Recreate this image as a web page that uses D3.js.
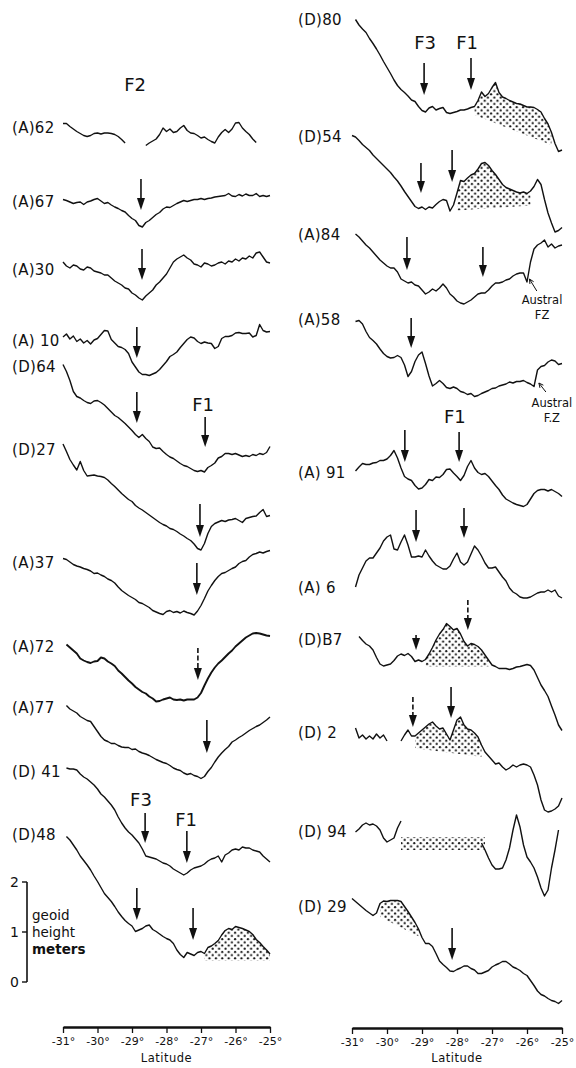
<!DOCTYPE html>
<html><head><meta charset="utf-8">
<script src="https://cdn.jsdelivr.net/npm/d3@7"></script>
<style>
body{margin:0;background:#fff}
svg{display:block}
text{font-family:"DejaVu Sans",sans-serif;fill:#111}
</style></head><body>
<svg id="c" width="576" height="1068"></svg>
<script>
// latitude sample points (degrees)
const LAT = [-31.0,-30.9,-30.8,-30.7,-30.6,-30.5,-30.4,-30.3,-30.2,-30.1,
 -30.0,-29.9,-29.8,-29.7,-29.6,-29.5,-29.4,-29.3,-29.2,-29.1,
 -29.0,-28.9,-28.8,-28.7,-28.6,-28.5,-28.4,-28.3,-28.2,-28.1,
 -28.0,-27.9,-27.8,-27.7,-27.6,-27.5,-27.4,-27.3,-27.2,-27.1,
 -27.0,-26.9,-26.8,-26.7,-26.6,-26.5,-26.4,-26.3,-26.2,-26.1,
 -26.0,-25.9,-25.8,-25.7,-25.6,-25.5,-25.4,-25.3,-25.2,-25.1,-25.0];
const TICKS = [-31,-30,-29,-28,-27,-26,-25];

// geoid heights (m) relative to each profile's stacking level
const A62 = [0.09,0.09,0.03,-0.02,-0.07,-0.11,-0.15,-0.17,-0.15,-0.11,
 -0.10,-0.12,-0.10,-0.10,-0.11,-0.13,-0.17,-0.23,-0.30,null,
 null,null,null,null,-0.35,-0.30,-0.26,-0.22,-0.13,0.00,
 -0.07,-0.02,-0.09,-0.07,0.00,0.05,-0.05,-0.10,-0.11,-0.15,
 -0.20,-0.18,-0.23,-0.27,-0.30,-0.18,-0.09,-0.03,-0.09,-0.02,
 0.10,0.11,0.00,-0.07,-0.13,-0.22,-0.29,null,null,null,null];
const A67 = [0.05,0.03,0,-0.03,-0.01,0,-0.05,0,0.02,0.05,
 0.07,0.02,-0.03,-0.01,-0.06,-0.10,-0.13,-0.17,-0.20,-0.27,
 -0.33,-0.37,-0.47,-0.50,-0.41,-0.37,-0.31,-0.25,-0.21,-0.14,
 -0.10,-0.11,-0.07,-0.03,0,0.03,0.01,0.03,0.05,0.05,
 0.07,0.05,0.07,0.08,0.10,0.11,0.12,0.13,0.17,0.12,
 0.11,0.15,0.12,0.16,0.13,0.13,0.17,0.11,0.13,0.11,0.13];
const A30 = [0.16,0.08,0.04,0.10,0.08,0.02,0.00,0.06,0.04,-0.02,
 -0.04,-0.06,-0.10,-0.10,-0.16,-0.22,-0.26,-0.30,-0.36,-0.38,
 -0.46,-0.50,-0.56,-0.60,-0.52,-0.46,-0.40,-0.30,-0.24,-0.16,
 -0.08,0.04,0.16,0.22,0.26,0.30,0.24,0.20,0.12,0.10,
 0.06,0.14,0.12,0.08,0.10,0.14,0.16,0.12,0.18,0.16,
 0.22,0.18,0.24,0.22,0.28,0.24,0.34,0.36,0.26,0.16,0.14];
const A10 = [0.08,0.14,0.04,0.10,-0.01,0.04,-0.04,0.01,-0.06,0.02,
 0.05,0.13,0.21,0.20,0.03,-0.04,-0.11,-0.13,-0.17,-0.25,
 -0.42,-0.52,-0.62,-0.67,-0.67,-0.69,-0.66,-0.63,-0.57,-0.49,
 -0.41,-0.31,-0.27,-0.22,-0.13,-0.05,0.03,0.08,0.06,-0.01,
 -0.05,-0.02,-0.04,-0.05,-0.15,-0.11,0.05,0.09,0.09,0.11,
 0.16,0.17,0.15,0.15,0.16,0.08,0.11,0.33,0.21,0.18,0.19];
const D64 = [0.05,-0.09,-0.27,-0.49,-0.59,-0.62,-0.67,-0.71,-0.73,-0.68,
 -0.67,-0.71,-0.76,-0.83,-0.90,-0.97,-1.01,-1.07,-1.13,-1.20,
 -1.27,-1.35,-1.41,-1.35,-1.43,-1.49,-1.60,-1.63,-1.62,-1.69,
 -1.75,-1.80,-1.83,-1.88,-1.93,-1.97,-1.99,-2.03,-2.07,-2.09,
 -2.07,-2.10,-2.01,-1.97,-1.92,-1.82,-1.79,-1.73,-1.73,-1.75,
 -1.73,-1.76,-1.79,-1.77,-1.79,-1.75,-1.77,-1.73,-1.75,-1.71,-1.59];
const D27 = [0.12,-0.03,-0.19,-0.30,-0.40,-0.23,-0.41,-0.52,-0.51,-0.50,
 -0.52,-0.53,-0.55,-0.60,-0.67,-0.73,-0.80,-0.87,-0.93,-0.99,
 -1.03,-1.11,-1.16,-1.20,-1.25,-1.30,-1.35,-1.40,-1.45,-1.49,
 -1.52,-1.57,-1.59,-1.63,-1.68,-1.72,-1.77,-1.81,-1.88,-1.97,
 -2.00,-1.87,-1.67,-1.53,-1.47,-1.44,-1.41,-1.43,-1.40,-1.39,
 -1.37,-1.41,-1.45,-1.37,-1.35,-1.33,-1.32,-1.25,-1.19,-1.33,-1.31];
const A37 = [0.09,0.07,0.02,-0.03,-0.06,-0.08,-0.11,-0.13,-0.16,-0.21,
 -0.20,-0.24,-0.27,-0.32,-0.35,-0.40,-0.48,-0.55,-0.60,-0.65,
 -0.69,-0.73,-0.79,-0.81,-0.85,-0.89,-0.95,-0.98,-1.01,-1.03,
 -0.97,-0.95,-0.99,-0.97,-1.00,-0.96,-0.99,-1.01,-1.04,-0.96,
 -0.85,-0.71,-0.56,-0.45,-0.35,-0.27,-0.21,-0.19,-0.15,-0.11,
 -0.08,-0.01,0.03,0.05,0.12,0.17,0.19,0.22,0.20,0.23,0.25];
const A72 = [null,0.05,-0.01,-0.07,-0.13,-0.23,-0.27,-0.30,-0.32,-0.29,
 -0.28,-0.21,-0.23,-0.29,-0.33,-0.38,-0.47,-0.53,-0.60,-0.67,
 -0.73,-0.80,-0.85,-0.90,-0.93,-0.99,-1.03,-1.09,-1.08,-1.05,
 -1.03,-1.01,-1.05,-1.06,-1.05,-1.07,-1.05,-1.05,-1.05,-1.01,
 -0.92,-0.77,-0.63,-0.51,-0.41,-0.33,-0.27,-0.20,-0.13,-0.07,
 0.01,0.07,0.13,0.19,0.23,0.27,0.28,0.27,0.25,0.23,0.22];
const A77 = [null,0.05,-0.02,-0.06,-0.10,-0.17,-0.21,-0.25,-0.27,-0.37,
 -0.47,-0.57,-0.64,-0.67,-0.71,-0.71,-0.75,-0.78,-0.79,-0.79,
 -0.83,-0.82,-0.87,-0.90,-0.92,-0.95,-0.99,-1.03,-1.06,-1.09,
 -1.11,-1.15,-1.20,-1.23,-1.25,-1.30,-1.33,-1.31,-1.35,-1.37,
 -1.41,-1.37,-1.27,-1.19,-1.08,-0.98,-0.90,-0.83,-0.77,-0.68,
 -0.64,-0.59,-0.55,-0.50,-0.45,-0.41,-0.37,-0.34,-0.29,-0.24,-0.18];
const D41 = [null,0.08,0.06,0.06,0.04,-0.04,-0.10,-0.14,-0.20,-0.26,
 -0.34,-0.44,-0.50,-0.58,-0.66,-0.76,-0.90,-1.02,-1.12,-1.20,
 -1.26,-1.34,-1.42,-1.54,-1.68,-1.70,-1.72,-1.74,-1.78,-1.82,
 -1.84,-1.88,-1.94,-1.98,-2.02,-2.06,-2.02,-1.96,-1.92,-1.90,
 -1.88,-1.84,-1.78,-1.74,-1.72,-1.68,-1.80,-1.66,-1.62,-1.56,
 -1.54,-1.56,-1.50,-1.52,-1.52,-1.56,-1.58,-1.60,-1.68,-1.74,-1.80];
const D48 = [null,-0.03,-0.10,-0.20,-0.30,-0.42,-0.51,-0.60,-0.70,-0.82,
 -0.93,-1.05,-1.17,-1.25,-1.33,-1.43,-1.54,-1.63,-1.71,-1.77,
 -1.82,-1.93,-1.90,-1.87,-1.82,-1.80,-1.89,-1.93,-1.98,-2.03,
 -2.07,-2.10,-2.17,-2.30,-2.39,-2.45,-2.35,-2.38,-2.41,-2.35,
 -2.33,-2.37,-2.25,-2.22,-2.17,-2.11,-2.00,-1.91,-1.87,-1.89,
 -1.83,-1.85,-1.87,-1.90,-1.93,-1.99,-2.09,-2.15,-2.23,-2.30,-2.38];
const D80 = [null,0.01,-0.10,-0.18,-0.25,-0.37,-0.47,-0.58,-0.70,-0.83,
 -0.95,-1.07,-1.20,-1.31,-1.39,-1.45,-1.52,-1.60,-1.63,-1.73,
 -1.81,-1.84,-1.76,-1.73,-1.80,-1.77,-1.75,-1.85,-1.87,-1.85,
 -1.83,-1.80,-1.80,-1.78,-1.75,-1.73,-1.61,-1.44,-1.53,-1.47,
 -1.35,-1.25,-1.45,-1.54,-1.57,-1.61,-1.64,-1.67,-1.68,-1.71,
 -1.74,-1.74,-1.75,-1.79,-1.84,-1.97,-2.08,-2.25,-2.47,-2.63,-2.60];
const D54 = [0.03,0,-0.07,-0.15,-0.21,-0.27,-0.36,-0.43,-0.50,-0.57,
 -0.64,-0.71,-0.80,-0.88,-0.98,-1.09,-1.19,-1.29,-1.39,-1.43,
 -1.40,-1.45,-1.40,-1.42,-1.35,-1.29,-1.25,-1.27,-1.48,-1.36,
 -1.12,-0.87,-0.89,-0.82,-0.76,-0.73,-0.64,-0.53,-0.51,-0.57,
 -0.67,-0.75,-0.85,-0.95,-1.01,-1.04,-1.07,-1.10,-1.12,-1.10,
 -1.13,-1.08,-0.99,-0.85,-0.95,-1.25,-1.52,-1.72,-1.90,-1.87,-1.81];
const A84 = [null,0.02,-0.04,-0.12,-0.20,-0.26,-0.34,-0.42,-0.50,-0.56,
 -0.62,-0.66,-0.66,-0.74,-0.88,-0.92,-0.96,-0.94,-1.00,-1.02,
 -1.10,-1.18,-1.14,-1.08,-1.12,-1.06,-0.98,-1.06,-1.18,-1.24,
 -1.32,-1.36,-1.38,-1.34,-1.30,-1.24,-1.18,-1.16,-1.16,-1.10,
 -1.02,-0.96,-0.96,-0.94,-0.90,-0.88,-0.82,-0.78,-0.76,-0.76,
 -0.94,-0.54,-0.28,-0.20,-0.16,-0.10,-0.24,-0.18,-0.26,-0.22,-0.20];
const A58 = [null,-0.03,-0.01,-0.08,-0.23,-0.35,-0.41,-0.48,-0.58,-0.67,
 -0.73,-0.76,-0.75,-0.71,-0.75,-0.90,-1.13,-1.03,-0.83,-0.70,
 -0.64,-0.87,-1.12,-1.32,-1.27,-1.21,-1.27,-1.35,-1.37,-1.34,
 -1.37,-1.43,-1.45,-1.49,-1.47,-1.53,-1.51,-1.47,-1.44,-1.41,
 -1.37,-1.36,-1.32,-1.30,-1.28,-1.24,-1.26,-1.23,-1.23,-1.21,
 -1.25,-1.28,-1.33,-1.00,-0.93,-0.91,-0.84,-0.80,-0.82,-0.89,-0.87];
const A91 = [null,0.04,0.12,0.19,0.17,0.17,0.20,0.21,0.25,0.25,
 0.28,0.35,0.45,0.30,0.10,-0.07,-0.12,-0.15,-0.25,-0.32,
 -0.30,-0.23,-0.13,-0.15,-0.08,-0.09,-0.03,0.07,0.08,0,
 -0.07,-0.15,-0.05,0.13,0.25,0.10,0.01,-0.03,-0.01,-0.07,
 -0.16,-0.25,-0.33,-0.44,-0.52,-0.56,-0.60,-0.63,-0.65,-0.67,
 -0.63,-0.52,-0.41,-0.35,-0.33,-0.33,-0.36,-0.33,-0.37,-0.41,-0.47];
const A6 = [null,0.02,0.26,0.40,0.54,0.60,0.60,0.70,0.80,0.94,
 1.02,1.06,0.78,0.76,0.92,1.06,0.86,0.62,0.62,0.64,
 0.62,0.76,0.64,0.54,0.46,0.42,0.38,0.38,0.44,0.58,
 0.70,0.52,0.46,0.52,0.68,0.84,0.76,0.64,0.50,0.40,
 0.40,0.42,0.32,0.22,0.14,0,-0.08,-0.12,-0.18,-0.20,
 -0.20,-0.18,-0.14,-0.10,-0.08,-0.08,-0.04,-0.08,-0.04,-0.16,-0.20];
const DB7 = [null,null,0.07,-0.01,-0.08,-0.12,-0.20,-0.35,-0.48,-0.52,
 -0.50,-0.48,-0.41,-0.32,-0.28,-0.31,-0.27,-0.33,-0.43,-0.40,
 -0.43,-0.39,-0.28,-0.15,0,0.12,0.21,0.33,0.27,0.20,
 0.23,0.12,-0.03,-0.12,-0.07,-0.09,-0.13,-0.20,-0.30,-0.40,
 -0.50,-0.53,-0.57,-0.57,-0.57,-0.59,-0.57,-0.54,-0.53,-0.51,
 -0.49,-0.51,-0.60,-0.75,-0.90,-1.01,-1.13,-1.32,-1.50,-1.70,-1.81];
const D2 = [null,0.10,-0.10,-0.04,-0.12,-0.06,-0.12,-0.02,-0.10,-0.04,
 -0.16,null,null,null,-0.16,-0.04,0.06,-0.06,-0.06,0,
 0.06,0.12,0.18,0.22,0.14,0.08,0.10,-0.02,-0.14,0.06,
 0.26,0.32,0.16,0.08,0.06,0,-0.08,-0.24,-0.38,-0.46,
 -0.54,-0.62,-0.60,-0.68,-0.74,-0.70,-0.64,-0.68,-0.64,-0.62,
 -0.64,-0.68,-0.84,-1.04,-1.34,-1.54,-1.58,-1.56,-1.52,-1.46,-1.30];
const D94 = [null,0,0.06,0.14,0.18,0.14,0.16,0.12,0.04,-0.12,
 -0.20,-0.16,-0.12,0.08,0.22,null,null,null,null,null,
 null,null,null,null,null,null,null,null,null,null,
 null,null,null,null,null,null,null,-0.22,-0.36,-0.52,
 -0.66,-0.74,-0.74,-0.72,-0.56,-0.32,0.04,0.34,0.10,-0.26,
 -0.50,-0.60,-0.72,-0.90,-1.12,-1.28,-1.16,-0.72,-0.36,0.04,null];
const D29 = [0.17,0.11,0.05,-0.01,-0.07,-0.12,-0.17,-0.12,0.07,0.12,
 0.11,0.13,0.13,0.13,0.11,0.01,-0.09,-0.20,-0.31,-0.44,
 -0.61,-0.73,-0.73,-0.79,-0.93,-1.08,-1.15,-1.21,-1.28,-1.29,
 -1.25,-1.22,-1.18,-1.18,-1.23,-1.26,-1.33,-1.33,-1.30,-1.27,
 -1.20,-1.16,-1.13,-1.09,-1.09,-1.14,-1.20,-1.23,-1.27,-1.33,
 -1.37,-1.47,-1.57,-1.68,-1.75,-1.78,-1.83,-1.87,-1.89,-1.93,-1.87];

// profile list: name, panel column, stacking level (m on the common scale)
const PROFILES = [
 ["A62","(A)62",0,17.08,A62],["A67","(A)67",0,15.60,A67],["A30","(A)30",0,14.24,A30],
 ["A10","(A) 10",0,12.82,A10],["D64","(D)64",0,12.30,D64],["D27","(D)27",0,10.64,D27],
 ["A37","(A)37",0,8.38,A37],["A72","(A)72",0,6.70,A72],["A77","(A)77",0,5.48,A77],
 ["D41","(D) 41",0,4.20,D41],["D48","(D)48",0,2.94,D48],
 ["D80","(D)80",1,19.24,D80],["D54","(D)54",1,16.90,D54],["A84","(A)84",1,14.94,A84],
 ["A58","(A)58",1,13.24,A58],["A91","(A) 91",1,10.18,A91],["A6","(A)  6",1,7.88,A6],
 ["DB7","(D)B7",1,6.84,DB7],["D2","(D)  2",1,4.98,D2],["D94","(D) 94",1,3.00,D94],
 ["D29","(D) 29",1,1.50,D29]
];
// fracture-zone arrows: profile, latitude, tip height (m, relative), length (m), dashed
const ARROWS = [
 ["A67",-28.74,-0.16,0.62,0],["A30",-28.71,-0.20,0.62,0],["A10",-28.86,-0.34,0.62,0],
 ["D64",-28.86,-1.12,0.62,0],["D64",-26.88,-1.60,0.60,0],["D27",-27.03,-1.74,0.66,0],
 ["A37",-27.12,-0.64,0.64,0],["A72",-27.09,-0.66,0.64,1],["A77",-26.83,-0.90,0.66,0],
 ["D41",-28.62,-1.42,0.60,0],["D41",-27.41,-1.82,0.64,0],
 ["D48",-28.86,-1.70,0.64,0],["D48",-27.23,-2.10,0.64,0],
 ["D80",-28.94,-1.50,0.64,0],["D80",-27.60,-1.40,0.64,0],
 ["D54",-29.03,-1.12,0.60,0],["D54",-28.14,-0.90,0.64,0],
 ["A84",-29.43,-0.70,0.66,0],["A84",-27.26,-0.84,0.60,0],
 ["A58",-29.31,-0.56,0.60,0],["A91",-29.49,0.22,0.64,0],["A91",-27.94,0.22,0.60,0],
 ["A6",-29.17,0.92,0.64,0],["A6",-27.80,1.00,0.60,0],
 ["DB7",-29.17,-0.20,0.30,0],["DB7",-27.69,0.20,0.60,1],
 ["D2",-29.26,0.12,0.60,1],["D2",-28.17,0.30,0.62,0],["D29",-28.14,-1.06,0.64,0]
];
// stippled (seamount) areas: profile, from lat, to lat, lower edge at start/end (m), fixed top (m) or null
const STIPPLE = [
 ["D48",-26.9,-25.0,-2.51,-2.51,null],["D80",-27.5,-25.3,-1.90,-2.50,null],
 ["D54",-28.0,-25.9,-1.47,-1.37,null],["DB7",-28.9,-27.1,-0.53,-0.53,null],
 ["D2",-29.26,-27.26,-0.30,-0.48,null],["D94",-29.6,-27.2,-0.36,-0.36,-0.10],
 ["D29",-30.28,-29.06,-0.17,-0.60,null]
];
// text labels: profile, latitude, height (m, relative), text
const NOTES = [
 ["A62",-28.91,0.86,"F2"],["D64",-26.94,-0.76,"F1"],["D41",-28.74,-0.56,"F3"],["D41",-27.43,-0.96,"F1"],
 ["D80",-28.91,-0.46,"F3"],["D80",-27.71,-0.46,"F1"],["A91",-28.06,1.12,"F1"]
];
const AUSTRAL = [
 ["A84",-25.57,-1.30,"FZ",-25.72,-1.12,-25.93,-0.88],
 ["A58",-25.29,-1.66,"F.Z",-25.46,-1.44,-25.66,-1.26]
];

const svg = d3.select("#c");
const xL = d3.scaleLinear().domain([-31,-25]).range([63,270]);
const xR = d3.scaleLinear().domain([-31,-25]).range([352,562]);
const XS = [xL,xR];
const y = d3.scaleLinear().domain([0,2]).range([982,882]);
const P = {}; PROFILES.forEach(p => P[p[0]] = {label:p[1], col:p[2], off:p[3], data:p[4]});

const defs = svg.append("defs");
const pat = defs.append("pattern").attr("id","dots").attr("width",6.4).attr("height",6.4)
 .attr("patternUnits","userSpaceOnUse");
pat.append("circle").attr("cx",1.5).attr("cy",1.5).attr("r",1.1).attr("fill","#111");
pat.append("circle").attr("cx",4.7).attr("cy",4.7).attr("r",1.1).attr("fill","#111");

// stipple areas
STIPPLE.forEach(([k,a,b,b0,b1,top]) => {
 const p = P[k], x = XS[p.col];
 const pts = [];
 LAT.forEach((lat,i) => { if (lat >= a-1e-9 && lat <= b+1e-9) {
   const v = top != null ? top : p.data[i];
   if (v != null) pts.push({lat, v});
 }});
 const base = lat => b0 + (b1-b0)*(lat-a)/(b-a);
 svg.append("path").datum(pts).attr("fill","url(#dots)")
  .attr("d", d3.area().x(d => x(d.lat)).y0(d => y(p.off + base(d.lat))).y1(d => y(p.off + d.v)));
});

// profiles
PROFILES.forEach(([k,label,col,off,data]) => {
 const x = XS[col];
 const line = d3.line().defined(d => d != null).x((d,i) => x(LAT[i])).y(d => y(off + d));
 svg.append("path").datum(data).attr("fill","none").attr("stroke","#111")
  .attr("stroke-width", k==="A72" ? 1.9 : 1.4).attr("stroke-linejoin","round").attr("d", line);
 svg.append("text").attr("x", col ? 298 : 12).attr("y", y(off)).attr("dy","0.36em")
  .attr("font-size",15).attr("letter-spacing",0.3).text(label);
});

// arrows
ARROWS.forEach(([k,lat,tip,len,dashed]) => {
 const p = P[k], x = XS[p.col](lat), ty = y(p.off + tip), top = y(p.off + tip + len);
 svg.append("line").attr("x1",x).attr("x2",x).attr("y1",top).attr("y2",ty-8)
  .attr("stroke","#111").attr("stroke-width",1.6).attr("stroke-dasharray", dashed ? "5,2.5" : null);
 svg.append("path").attr("d",`M${x-4},${ty-12}L${x+4},${ty-12}L${x},${ty}Z`).attr("fill","#111");
});

NOTES.forEach(([k,lat,v,t]) => {
 const p = P[k];
 svg.append("text").attr("x",XS[p.col](lat)).attr("y",y(p.off+v)).attr("dy","0.36em")
  .attr("text-anchor","middle").attr("font-size",18).text(t);
});

AUSTRAL.forEach(([k,lat,v,t,al,av,tl,tv]) => {
 const p = P[k], x = XS[p.col];
 svg.append("text").attr("x",x(lat)).attr("y",y(p.off+v)).attr("dy","0.36em")
  .attr("text-anchor","middle").attr("font-size",11.5).text("Austral");
 svg.append("text").attr("x",x(lat)).attr("y",y(p.off+v-0.30)).attr("dy","0.36em")
  .attr("text-anchor","middle").attr("font-size",11.5).text(t);
 const x1 = x(al), y1 = y(p.off+av), x2 = x(tl), y2 = y(p.off+tv);
 svg.append("line").attr("x1",x1).attr("y1",y1).attr("x2",x2).attr("y2",y2).attr("stroke","#111").attr("stroke-width",1);
 const ang = Math.atan2(y2-y1,x2-x1);
 const h = 5;
 svg.append("path").attr("d",`M${x2},${y2}L${x2-h*Math.cos(ang-0.45)},${y2-h*Math.sin(ang-0.45)}M${x2},${y2}L${x2-h*Math.cos(ang+0.45)},${y2-h*Math.sin(ang+0.45)}`)
  .attr("stroke","#111").attr("stroke-width",1).attr("fill","none");
});

// scale bar
const sb = svg.append("g");
sb.append("line").attr("x1",27).attr("x2",27).attr("y1",y(0)).attr("y2",y(2)).attr("stroke","#111").attr("stroke-width",1.6);
[0,1,2].forEach(v => {
 sb.append("line").attr("x1",22).attr("x2",27).attr("y1",y(v)).attr("y2",y(v)).attr("stroke","#111").attr("stroke-width",1.4);
 sb.append("text").attr("x",19).attr("y",y(v)).attr("dy","0.36em").attr("text-anchor","end").attr("font-size",14).text(v);
});
sb.append("text").attr("x",32).attr("y",920).attr("font-size",13.5).text("geoid");
sb.append("text").attr("x",32).attr("y",937).attr("font-size",13.5).text("height");
sb.append("text").attr("x",32).attr("y",954).attr("font-size",13.5).attr("font-weight","bold").text("meters");

// latitude axes
[[xL,1027],[xR,1028]].forEach(([sc,yy]) => {
 const g = svg.append("g").attr("transform",`translate(0,${yy})`)
  .call(d3.axisBottom(sc).tickValues(TICKS).tickSize(6).tickSizeOuter(0).tickPadding(4).tickFormat(d => `${d}°`));
 g.select(".domain").attr("stroke","#111").attr("stroke-width",2.6);
 g.selectAll(".tick line").attr("stroke","#111").attr("stroke-width",1.3);
 g.selectAll(".tick text").attr("font-family","DejaVu Sans").attr("font-size",11).attr("fill","#111");
 svg.append("text").attr("x",(sc.range()[0]+sc.range()[1])/2).attr("y",1062)
  .attr("text-anchor","middle").attr("font-size",11.5).attr("letter-spacing",0.5).text("Latitude");
});
</script></body></html>
